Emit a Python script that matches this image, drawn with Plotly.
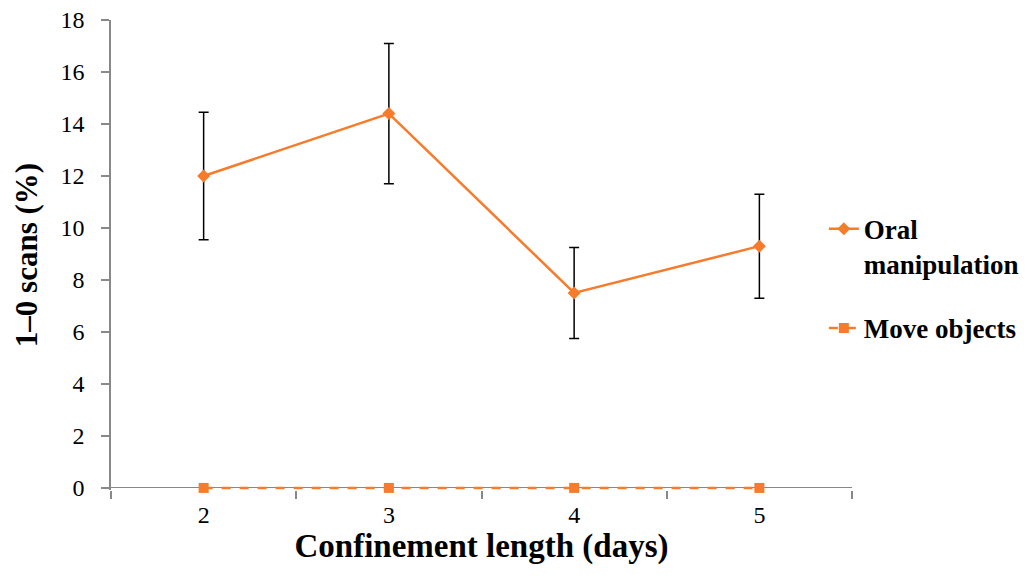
import plotly.graph_objects as go

# Confinement length (days) and percentage of 1-0 scans
days = ["2", "3", "4", "5"]
oral_manipulation = [12.0, 14.4, 7.5, 9.3]
oral_err = [2.45, 2.7, 1.75, 2.0]
move_objects = [0.0, 0.0, 0.0, 0.0]

orange = "#F77B2A"
axis_grey = "#888888"
serif = "Liberation Serif, Times New Roman, serif"

fig = go.Figure()

fig.add_trace(go.Scatter(
    x=days, y=oral_manipulation,
    mode="lines+markers",
    name="<b>Oral<br>manipulation</b>",
    line=dict(color=orange, width=2.5),
    marker=dict(symbol="diamond", size=10, color=orange),
    error_y=dict(type="data", array=oral_err, visible=True,
                 color="black", thickness=1.5, width=5),
    legendgroup="a",
))

fig.add_trace(go.Scatter(
    x=days, y=move_objects,
    mode="lines+markers",
    name="<b>Move objects</b>",
    line=dict(color=orange, width=2.5, dash="dash"),
    marker=dict(symbol="square", size=10, color=orange),
    legendgroup="b",
    cliponaxis=False,
))

# A small pad below zero keeps the dashed zero series fully visible;
# the y zero line serves as the horizontal axis line.
fig.update_layout(
    width=1031, height=580,
    margin=dict(l=111, r=179, t=20, b=90, autoexpand=False),
    plot_bgcolor="white", paper_bgcolor="white",
    font=dict(family=serif, size=24, color="black"),
    showlegend=True,
    legend=dict(
        x=0.962, xanchor="left", y=0.607, yanchor="top",
        valign="top",
        font=dict(family=serif, size=27, color="black"),
        tracegroupgap=26, traceorder="grouped",
        itemwidth=30, bgcolor="rgba(0,0,0,0)",
    ),
    xaxis=dict(
        type="category",
        range=[-0.5, 3.5],
        layer="below traces",
        showline=False,
        ticks="outside", tickson="boundaries", ticklen=8,
        tickcolor=axis_grey, tickwidth=1.5,
        showgrid=False, zeroline=False,
        tickfont=dict(family=serif, size=24),
        ticklabelstandoff=8,
        title=dict(text="<b>Confinement length (days)</b>",
                   font=dict(family=serif, size=33), standoff=4),
    ),
    yaxis=dict(
        range=[-0.08, 18], dtick=2,
        layer="below traces",
        showline=True, linecolor=axis_grey, linewidth=1.5,
        ticks="outside", ticklen=8, tickcolor=axis_grey, tickwidth=1.5,
        showgrid=False,
        zeroline=True, zerolinecolor=axis_grey, zerolinewidth=1.2,
        tickfont=dict(family=serif, size=24),
        ticklabelstandoff=12,
        title=dict(text="<b>1–0 scans (%)</b>",
                   font=dict(family=serif, size=31), standoff=14),
    ),
)

fig.write_html("out.html")
